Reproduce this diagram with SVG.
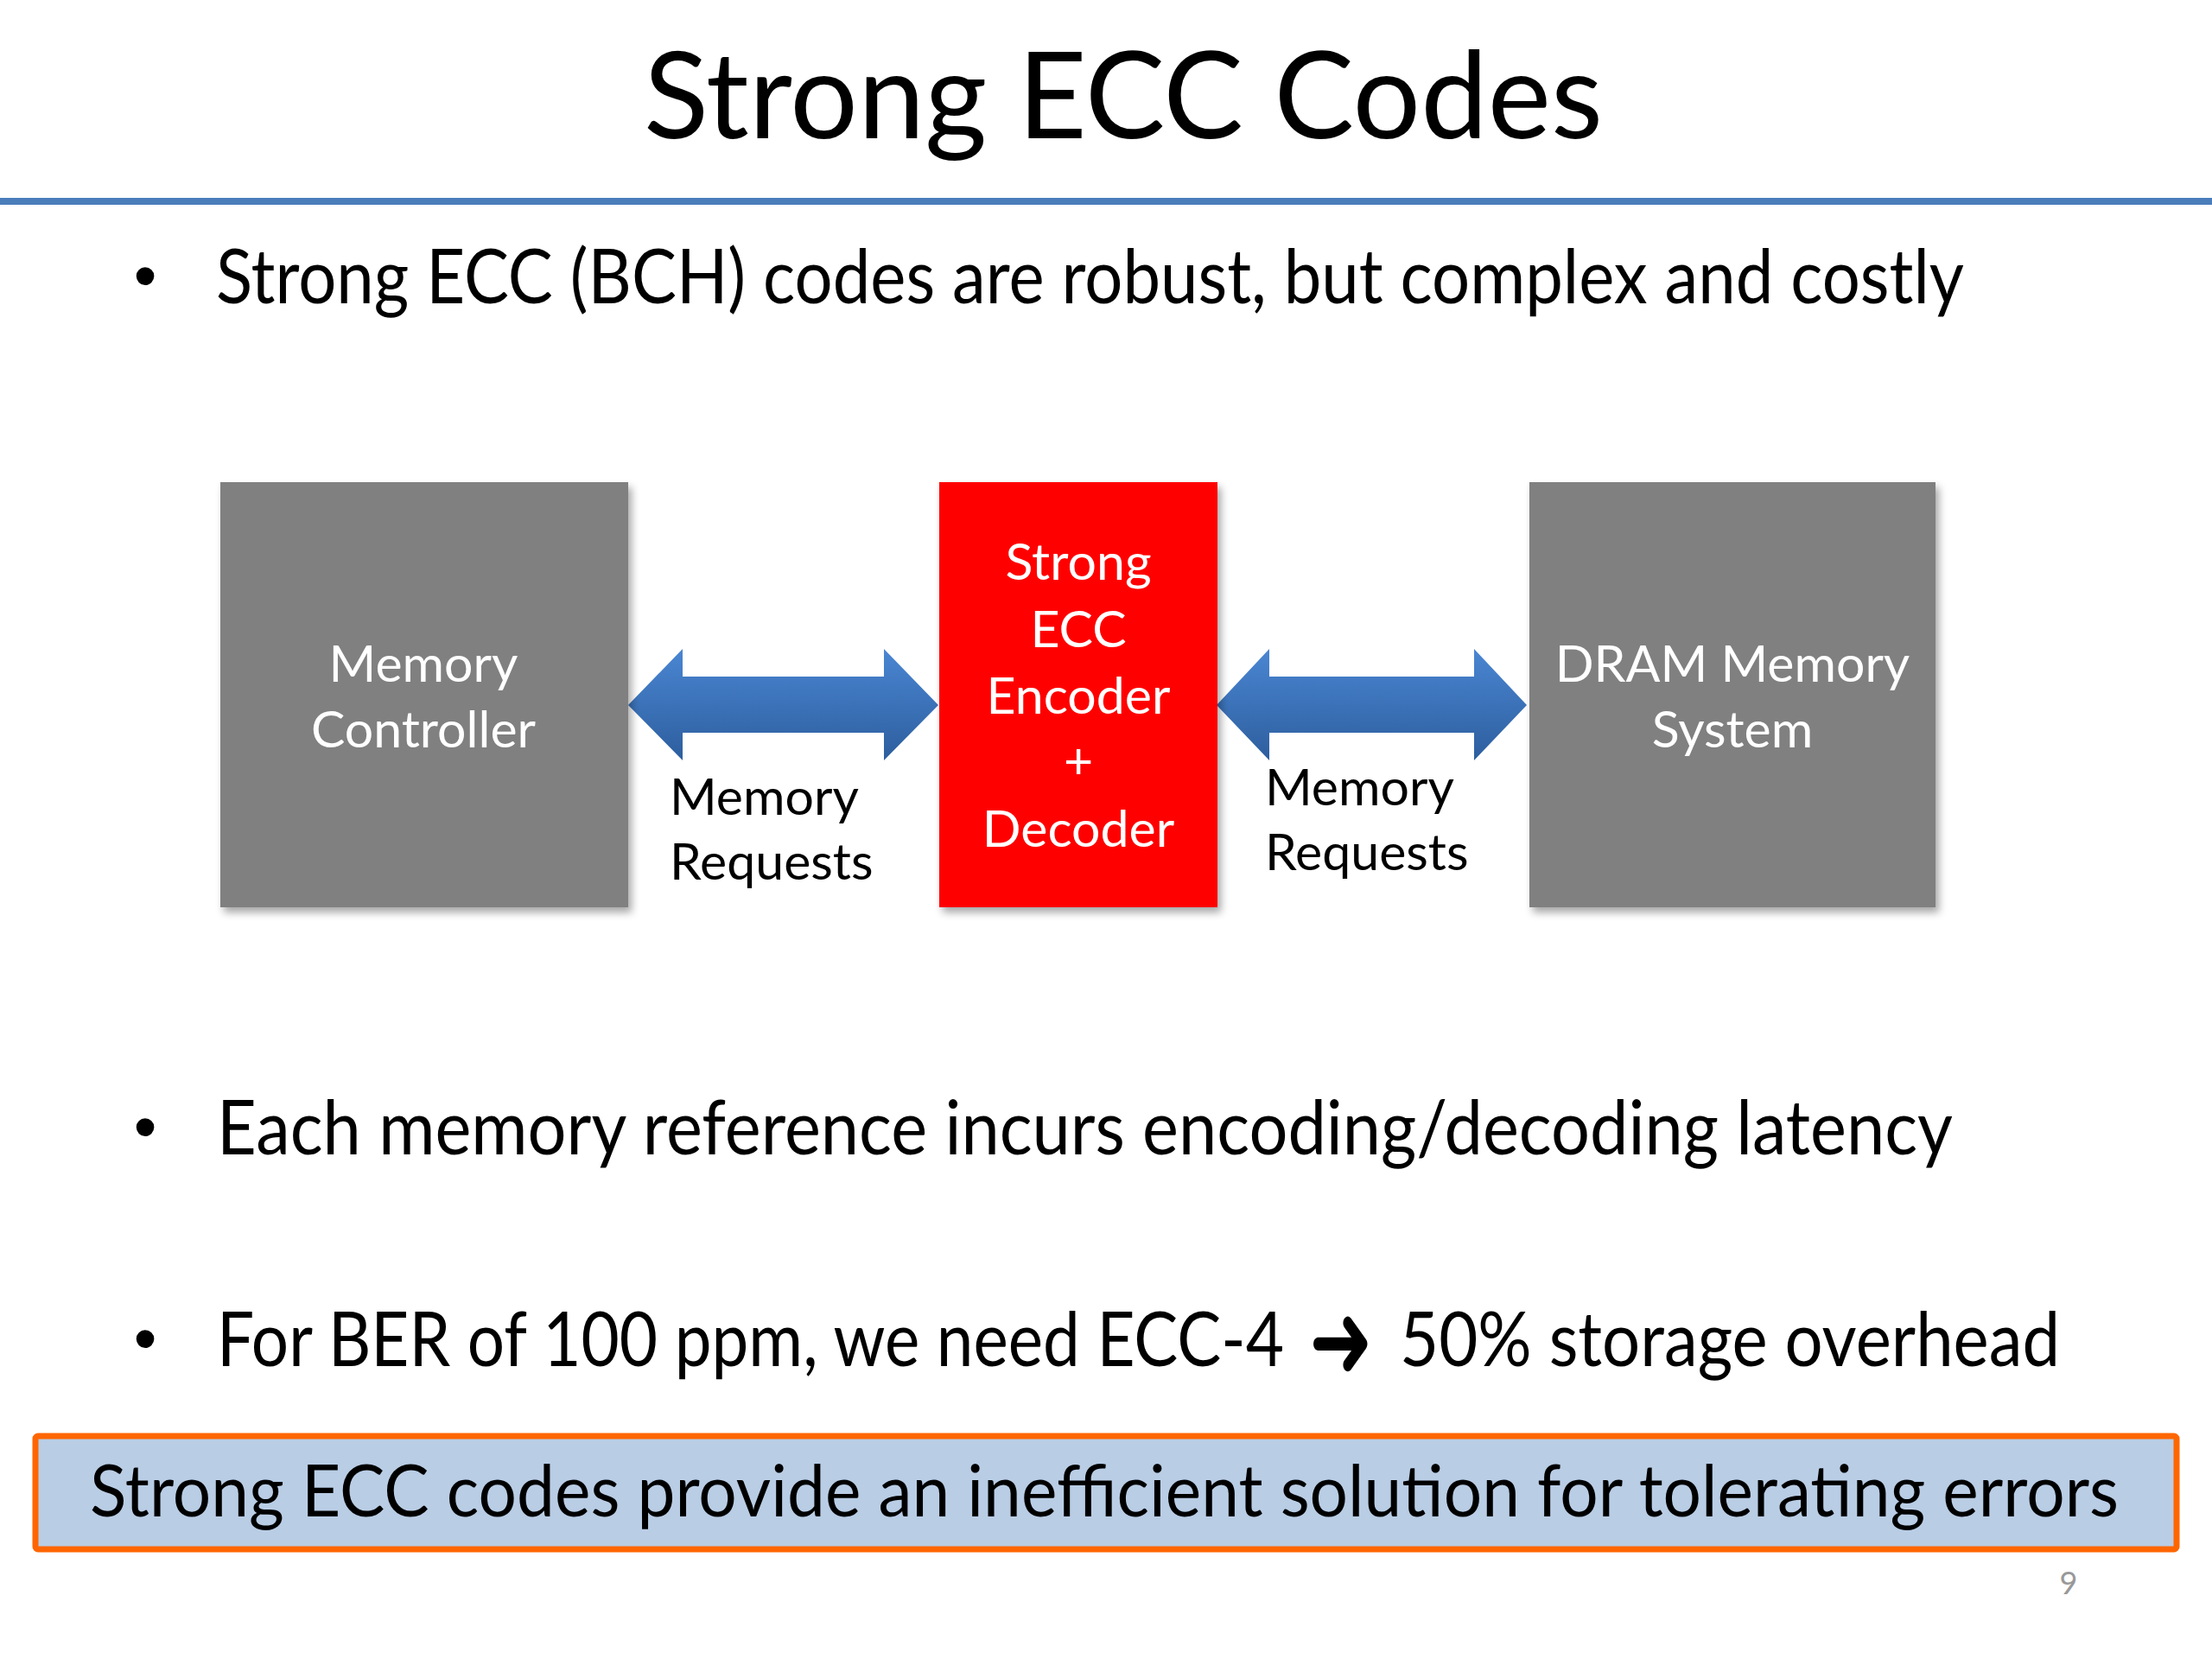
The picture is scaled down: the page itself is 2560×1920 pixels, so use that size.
<svg xmlns="http://www.w3.org/2000/svg" width="2560" height="1920" viewBox="0 0 2560 1920">
<style>
.t{font-family:Lato,"Open Sans","Liberation Sans",sans-serif;fill:#000}
.w{font-family:Lato,"Open Sans","Liberation Sans",sans-serif;fill:#fff;font-size:59px;text-anchor:middle}
.lbl{font-family:Lato,"Open Sans","Liberation Sans",sans-serif;fill:#000;font-size:59px}
.big{font-size:88px}
.dot{font-family:"Liberation Sans",sans-serif;font-size:76px;fill:#000;text-anchor:middle}
</style>
<defs>
<linearGradient id="ag" x1="0" y1="0" x2="0" y2="1">
<stop offset="0" stop-color="#4a86d2"/>
<stop offset="1" stop-color="#2d5e9e"/>
</linearGradient>
<filter id="sh" x="-10%" y="-10%" width="125%" height="125%">
<feDropShadow dx="4" dy="6" stdDeviation="5" flood-color="#000" flood-opacity="0.35"/>
</filter>
</defs>
<rect width="2560" height="1920" fill="#fff"/>
<g id="title">
<text class="t" x="1300" y="160" font-size="140" text-anchor="middle" textLength="1110" lengthAdjust="spacingAndGlyphs">Strong ECC Codes</text>
<rect x="0" y="229" width="2560" height="8" fill="#4a7ebb"/>
</g>
<g id="bullet1">
<text class="dot" x="168" y="345">•</text>
<text class="t big" x="250" y="351" textLength="2023" lengthAdjust="spacingAndGlyphs">Strong ECC (BCH) codes are robust, but complex and costly</text>
</g>
<g id="connectors">
<polygon id="arrow1" points="727,816 790,751 790,783 1023,783 1023,751 1086,816 1023,880 1023,848 790,848 790,880" fill="url(#ag)"/>
<polygon id="arrow2" points="1408,816 1469,751 1469,783 1706,783 1706,751 1767,816 1706,880 1706,848 1469,848 1469,880" fill="url(#ag)"/>
<text class="lbl" x="775" y="943">Memory</text>
<text class="lbl" x="775" y="1018">Requests</text>
<text class="lbl" x="1464" y="932">Memory</text>
<text class="lbl" x="1464" y="1007">Requests</text>
</g>
<g id="memory-controller">
<rect x="255" y="558" width="472" height="492" fill="#808080" filter="url(#sh)"/>
<text class="w" x="490" y="789">Memory</text>
<text class="w" x="490" y="865">Controller</text>
</g>
<g id="ecc-codec">
<rect x="1087" y="558" width="322" height="492" fill="#ff0000" filter="url(#sh)"/>
<text class="w" x="1248" y="671">Strong</text>
<text class="w" x="1248" y="749">ECC</text>
<text class="w" x="1248" y="826">Encoder</text>
<text class="w" x="1248" y="901">+</text>
<text class="w" x="1248" y="980">Decoder</text>
</g>
<g id="dram">
<rect x="1770" y="558" width="470" height="492" fill="#808080" filter="url(#sh)"/>
<text class="w" x="2005" y="789">DRAM Memory</text>
<text class="w" x="2005" y="865">System</text>
</g>
<g id="bullet2">
<text class="dot" x="168" y="1330">•</text>
<text class="t big" x="251" y="1336" textLength="2009" lengthAdjust="spacingAndGlyphs">Each memory reference incurs encoding/decoding latency</text>
</g>
<g id="bullet3">
<text class="dot" x="168" y="1575">•</text>
<text class="t big" x="251" y="1581" textLength="1235" lengthAdjust="spacingAndGlyphs">For BER of 100 ppm, we need ECC-4</text>
<text x="1515" y="1594" font-family="DejaVu Sans,sans-serif" font-size="124" textLength="74" lengthAdjust="spacingAndGlyphs">➜</text>
<text class="t big" x="1620" y="1581" textLength="764" lengthAdjust="spacingAndGlyphs">50% storage overhead</text>
</g>
<g id="conclusion">
<rect x="41" y="1662" width="2478" height="131" fill="#b9cde5" stroke="#ff6600" stroke-width="7" rx="3"/>
<text class="t" x="104" y="1755" font-size="84" textLength="2348" lengthAdjust="spacingAndGlyphs">Strong ECC codes provide an inefficient solution for tolerating errors</text>
</g>
<text id="page" x="2394" y="1845" font-family="Lato,'Open Sans',sans-serif" font-size="36" fill="#999" text-anchor="middle">9</text>
</svg>
